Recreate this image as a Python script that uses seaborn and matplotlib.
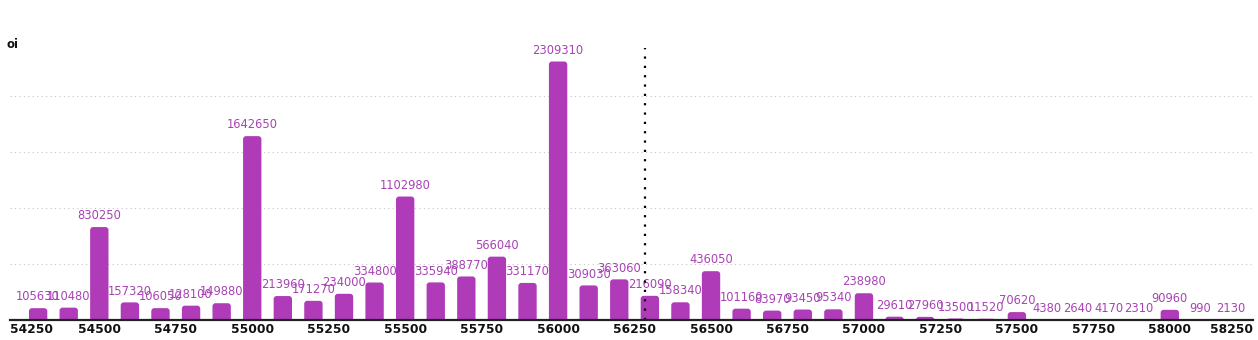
import matplotlib
matplotlib.use("Agg")
import matplotlib.pyplot as plt
import matplotlib.transforms as mtransforms
from matplotlib.patches import FancyBboxPatch
import seaborn as sns
import pandas as pd

strikes = [54300, 54400, 54500, 54600, 54700, 54800, 54900, 55000, 55100, 55200,
           55300, 55400, 55500, 55600, 55700, 55800, 55900, 56000, 56100, 56200,
           56300, 56400, 56500, 56600, 56700, 56800, 56900, 57000, 57100, 57200,
           57300, 57400, 57500, 57600, 57700, 57800, 57900, 58000, 58100, 58200]
oi = [105630, 110480, 830250, 157320, 106050, 128100, 149880, 1642650, 213960, 171270,
      234000, 334800, 1102980, 335940, 388770, 566040, 331170, 2309310, 309030, 363060,
      216090, 158340, 436050, 101160, 83970, 93450, 95340, 238980, 29610, 27960,
      13500, 11520, 70620, 4380, 2640, 4170, 2310, 90960, 990, 2130]
tick_values = [54250, 54500, 54750, 55000, 55250, 55500, 55750, 56000, 56250,
               56500, 56750, 57000, 57250, 57500, 57750, 58000, 58250]
grid_values = [500000, 1000000, 1500000, 2000000]
spot = 56285
y_label = "oi"

bar_color = "#AF3BB9"
text_color = "#A743B3"

sns.set_theme(style="white")
plt.rcParams["font.family"] = ["DejaVu Sans"]

df = pd.DataFrame({"strike": strikes, "oi": oi})

W, H = 1258, 340
fig = plt.figure(figsize=(W / 100, H / 100), dpi=100)
ax = fig.add_axes([10 / W, 20 / H, 1243 / W, 272 / H])

sns.barplot(data=df, x="strike", y="oi", native_scale=True, width=0.6,
            color=bar_color, saturation=1, ax=ax, errorbar=None)

x_min, x_max = 54208, 58272
y_max = 2430000
ax.set_xlim(x_min, x_max)
ax.set_ylim(0, y_max)

# rounded bar tops
x_per_px = (x_max - x_min) / 1243
y_per_px = y_max / 272
aspect = y_per_px / x_per_px
r = 3 * x_per_px
bars = list(ax.patches)
for p in bars:
    x, y, w, h = p.get_x(), p.get_y(), p.get_width(), p.get_height()
    p.remove()
    ext = r * aspect
    fb = FancyBboxPatch((x, y - ext), w, h + ext,
                        boxstyle=f"round,pad=0,rounding_size={r}",
                        mutation_aspect=aspect, facecolor=bar_color,
                        edgecolor="none", zorder=3, clip_on=True)
    ax.add_patch(fb)

for s, v in zip(strikes, oi):
    ax.annotate(str(v), (s, v), xytext=(0, 3.5), textcoords="offset points",
                ha="center", va="bottom", fontsize=8.3, color=text_color, zorder=4)

for g in grid_values:
    ax.axhline(g, color="#c8c8c8", lw=0.8, ls=(0, (1, 3)), zorder=1)

ax.axvline(spot, color="black", lw=1.6, ls=(0, (1, 3.2)), zorder=5)

ax.set_xticks(tick_values)
ax.set_xticklabels([str(t) for t in tick_values], fontsize=8.8, fontweight="bold",
                   color="#111111")
ax.tick_params(axis="x", length=0, pad=2.5)
ax.set_yticks([])
ax.set_xlabel("")
ax.set_ylabel("")
for side in ["top", "left", "right"]:
    ax.spines[side].set_visible(False)
ax.spines["bottom"].set_color("#222222")
ax.spines["bottom"].set_linewidth(1.6)
ax.spines["bottom"].set_zorder(6)

# keep edge tick labels inside axes
labels = ax.get_xticklabels()
labels[0].set_ha("left")
labels[0].set_transform(labels[0].get_transform() + mtransforms.ScaledTranslation(
    -((tick_values[0] - x_min) / x_per_px) / 100, 0, fig.dpi_scale_trans))
labels[-1].set_ha("right")
labels[-1].set_transform(labels[-1].get_transform() + mtransforms.ScaledTranslation(
    ((x_max - tick_values[-1]) / x_per_px) / 100, 0, fig.dpi_scale_trans))

fig.text(7 / W, 1 - 45 / H, y_label, fontsize=8.5, fontweight="bold",
         color="#111111", va="center", ha="left")

fig.savefig("out.png", dpi=100)
